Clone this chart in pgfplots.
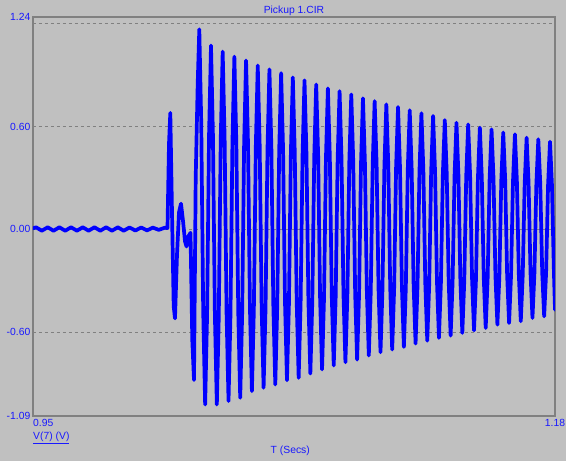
\documentclass[border=0pt]{standalone}
\usepackage{fontspec}
\setmainfont{Liberation Sans}
\usepackage{pgfplots}
\pgfplotsset{compat=1.18}
\definecolor{bg}{RGB}{192,192,192}
\definecolor{frame}{RGB}{128,128,128}
\definecolor{txt}{RGB}{24,24,255}
\definecolor{trace}{RGB}{0,0,255}
\begin{document}
\begin{tikzpicture}[font=\fontsize{10.4}{12}\selectfont]
\fill[bg] (-33bp,-45bp) rectangle (533bp,416bp);
\begin{axis}[
  scale only axis, width=522bp, height=399bp,
  xmin=0.95, xmax=1.18, ymin=-1.09, ymax=1.24,
  axis line style={frame, line width=1.6bp},
  major tick length=0pt,
  tick style={draw=none},
  xtick={0.95}, xticklabels={0.95},
  extra x ticks={1.18}, extra x tick labels={1.18},
  extra x tick style={xticklabel style={anchor=north}},
  xticklabel style={anchor=north west, inner sep=0pt, yshift=-3bp, text=txt},
  ytick={-1.09,-0.6,0,0.6,1.24},
  yticklabels={-1.09,-0.60,0.00,0.60,1.24},
  yticklabel style={text=txt, inner sep=0pt, xshift=-2.5bp},
  extra y ticks={-0.6,0,0.6,1.2},
  extra y tick labels={{},{},{},{}},
  extra y tick style={grid=major, major grid style={frame, dash pattern=on 3bp off 3bp, line width=1bp}},
]
\addplot[trace, line width=3.7bp, line join=round, line cap=round, mark=none] table {
0.950000 0.006
0.951320 0.012
0.953895 -0.008
0.956471 0.012
0.959046 -0.008
0.961622 0.012
0.964197 -0.008
0.966772 0.012
0.969348 -0.008
0.971923 0.012
0.974499 -0.008
0.977074 0.012
0.979650 -0.008
0.982225 0.012
0.984800 -0.008
0.987376 0.012
0.989951 -0.008
0.992526 0.011
0.995102 -0.007
0.997677 0.011
1.000253 -0.006
1.002828 0.010
1.005404 -0.003
1.007979 0.009
1.009262 0.008
1.009923 0.50
1.010496 0.68
1.011245 0.10
1.011994 -0.45
1.012567 -0.52
1.013448 -0.15
1.014330 0.10
1.015211 0.15
1.016092 0.05
1.016973 -0.07
1.017634 -0.10
1.018515 -0.04
1.019397 -0.02
1.020190 -0.65
1.020939 -0.88
1.021688 0.30
1.022569 0.85
1.023274 1.168
1.024132 0.620
1.024991 -0.475
1.025849 -1.023
1.026708 -0.499
1.027566 0.549
1.028425 1.073
1.029283 0.549
1.030142 -0.499
1.031000 -1.023
1.031859 -0.508
1.032717 0.523
1.033576 1.038
1.034434 0.528
1.035293 -0.493
1.036151 -1.003
1.037010 -0.500
1.037868 0.505
1.038726 1.008
1.039584 0.510
1.040443 -0.486
1.041301 -0.984
1.042160 -0.492
1.043018 0.494
1.043877 0.986
1.044735 0.503
1.045594 -0.462
1.046452 -0.945
1.047311 -0.470
1.048169 0.482
1.049028 0.957
1.049886 0.487
1.050745 -0.455
1.051603 -0.925
1.052462 -0.460
1.053320 0.469
1.054179 0.934
1.055037 0.474
1.055896 -0.446
1.056754 -0.906
1.057613 -0.451
1.058471 0.457
1.059330 0.912
1.060188 0.464
1.061047 -0.433
1.061905 -0.881
1.062764 -0.439
1.063622 0.445
1.064480 0.887
1.065338 0.448
1.066197 -0.428
1.067055 -0.867
1.067914 -0.433
1.068772 0.436
1.069631 0.870
1.070489 0.442
1.071348 -0.414
1.072206 -0.842
1.073065 -0.420
1.073923 0.424
1.074782 0.846
1.075640 0.430
1.076499 -0.402
1.077357 -0.818
1.078216 -0.408
1.079074 0.413
1.079933 0.823
1.080791 0.418
1.081650 -0.390
1.082508 -0.795
1.083367 -0.394
1.084225 0.406
1.085084 0.807
1.085942 0.411
1.086801 -0.380
1.087659 -0.776
1.088518 -0.385
1.089376 0.397
1.090234 0.788
1.091092 0.401
1.091951 -0.374
1.092809 -0.761
1.093668 -0.380
1.094526 0.384
1.095385 0.765
1.096243 0.390
1.097102 -0.362
1.097960 -0.737
1.098819 -0.366
1.099677 0.378
1.100536 0.749
1.101394 0.382
1.102253 -0.351
1.103111 -0.718
1.103970 -0.356
1.104828 0.368
1.105687 0.730
1.106545 0.372
1.107404 -0.344
1.108262 -0.702
1.109121 -0.348
1.109979 0.360
1.110838 0.714
1.111696 0.364
1.112555 -0.337
1.113413 -0.687
1.114272 -0.341
1.115130 0.349
1.115988 0.695
1.116846 0.354
1.117705 -0.326
1.118563 -0.667
1.119422 -0.331
1.120280 0.342
1.121139 0.678
1.121997 0.346
1.122856 -0.318
1.123714 -0.650
1.124573 -0.322
1.125431 0.334
1.126290 0.662
1.127148 0.338
1.128007 -0.310
1.128865 -0.634
1.129724 -0.316
1.130582 0.320
1.131441 0.638
1.132299 0.323
1.133158 -0.306
1.134016 -0.621
1.134875 -0.310
1.135733 0.312
1.136592 0.623
1.137450 0.316
1.138309 -0.298
1.139167 -0.605
1.140026 -0.301
1.140884 0.309
1.141742 0.613
1.142600 0.312
1.143459 -0.289
1.144317 -0.590
1.145176 -0.294
1.146034 0.298
1.146893 0.594
1.147751 0.301
1.148610 -0.283
1.149468 -0.576
1.150327 -0.286
1.151185 0.294
1.152044 0.584
1.152902 0.299
1.153761 -0.272
1.154619 -0.557
1.155478 -0.277
1.156336 0.285
1.157195 0.565
1.158053 0.287
1.158912 -0.269
1.159770 -0.547
1.160629 -0.271
1.161487 0.279
1.162346 0.555
1.163204 0.282
1.164063 -0.264
1.164921 -0.537
1.165780 -0.269
1.166638 0.267
1.167496 0.535
1.168354 0.272
1.169213 -0.255
1.170071 -0.518
1.170930 -0.257
1.171788 0.265
1.172647 0.526
1.173505 0.268
1.174364 -0.250
1.175222 -0.508
1.176081 -0.253
1.176939 0.257
1.177798 0.512
1.178656 0.259
1.179515 -0.247
1.180000 -0.470
};
\end{axis}
\node[anchor=base, inner sep=0pt, text=txt] at (261bp,402bp) {Pickup 1.CIR};
\node[anchor=base west, inner sep=0pt, text=txt] at (0bp,-23.5bp) {\underline{V(7) (V)}};
\node[anchor=base, inner sep=0pt, text=txt] at (257.3bp,-37.4bp) {T (Secs)};
\pgfresetboundingbox
\useasboundingbox (-33bp,-45bp) rectangle (533bp,416bp);
\end{tikzpicture}
\end{document}
